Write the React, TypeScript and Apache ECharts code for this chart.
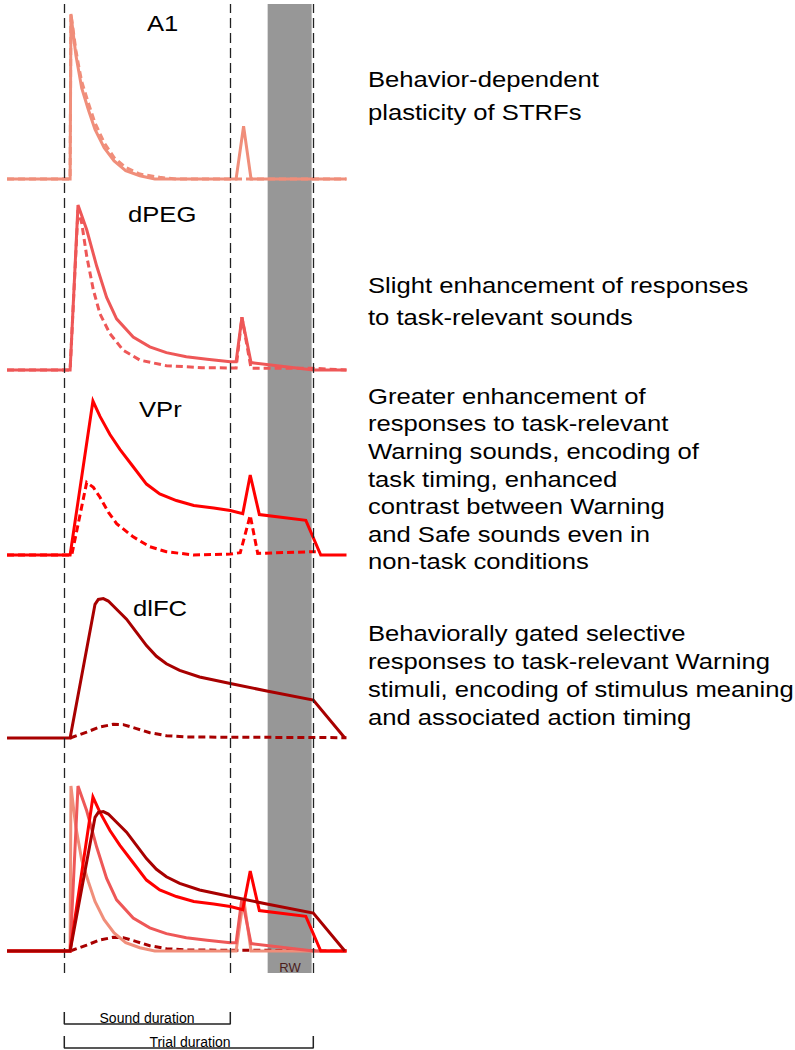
import React, { useEffect, useRef } from "react";
import * as echarts from "echarts";

// ---- time axis (s) ----
const X_MIN = -0.7;
const X_MAX = 3.4;
const SOUND_DURATION = 2;
const TRIAL_DURATION = 3;
const RW_WINDOW = [2.45, 2.98];
const EVENT_TIMES = [0, SOUND_DURATION, TRIAL_DURATION];

// ---- A1 ----
const A1_T = [-0.69, 0.07, 0.08, 0.11, 0.14, 0.175, 0.21, 0.29, 0.37, 0.48, 0.6, 0.74, 0.91, 1.09, 2.07, 2.16, 2.25, 3.4];
const A1_TASK = [0, 0, 1.0, 0.87, 0.75, 0.65, 0.55, 0.42, 0.3, 0.19, 0.11, 0.05, 0.02, 0, 0, 0.32, 0, 0];
const A1_T_PASSIVE = [-0.69, 0.07, 0.08, 0.11, 0.14, 0.175, 0.21, 0.29, 0.37, 0.48, 0.6, 0.74, 0.91, 1.15, 1.35, 3.4];
const A1_PASSIVE = [0, 0, 1.0, 0.89, 0.78, 0.68, 0.59, 0.46, 0.34, 0.22, 0.13, 0.07, 0.03, 0.01, 0, 0];

// ---- dPEG ----
const DPEG_T = [-0.69, 0.07, 0.165, 0.27, 0.39, 0.51, 0.63, 0.83, 1.03, 1.23, 1.47, 1.72, 2.0, 2.07, 2.14, 2.25, 3.0, 3.4];
const DPEG_TASK = [0, 0, 1.0, 0.85, 0.63, 0.44, 0.31, 0.2, 0.14, 0.105, 0.08, 0.065, 0.05, 0.05, 0.32, 0.045, 0, 0];
const DPEG_T_PASSIVE = [-0.69, 0.07, 0.165, 0.21, 0.27, 0.35, 0.43, 0.55, 0.71, 0.91, 1.23, 1.66, 2.07, 2.14, 2.25, 3.0, 3.4];
const DPEG_PASSIVE = [0, 0, 0.97, 0.89, 0.69, 0.485, 0.34, 0.22, 0.12, 0.06, 0.026, 0.014, 0.012, 0.32, 0.01, 0.01, 0];

// ---- VPr ----
const VPR_T = [-0.69, 0.07, 0.345, 0.43, 0.55, 0.67, 0.83, 0.99, 1.15, 1.35, 1.56, 1.8, 2.0, 2.15, 2.24, 2.35, 2.91, 3.09, 3.4];
const VPR_TASK = [0, 0, 0.933, 0.84, 0.73, 0.64, 0.535, 0.43, 0.37, 0.33, 0.3, 0.285, 0.27, 0.25, 0.485, 0.245, 0.21, 0, 0];
const VPR_T_PASSIVE = [-0.69, 0.07, 0.09, 0.27, 0.35, 0.43, 0.53, 0.63, 0.83, 1.03, 1.23, 1.56, 2.0, 2.12, 2.24, 2.33, 3.0, 3.03];
const VPR_PASSIVE = [0, 0, 0, 0.44, 0.41, 0.35, 0.26, 0.19, 0.11, 0.05, 0.02, 0, 0.006, 0.014, 0.24, 0.01, 0.02, 0.02];

// ---- dlFC ----
const DLFC_T = [-0.69, 0.07, 0.37, 0.41, 0.47, 0.53, 0.63, 0.75, 0.87, 0.99, 1.11, 1.23, 1.39, 1.63, 2.0, 2.44, 3.0, 3.38];
const DLFC_TASK = [0, 0, 0.81, 0.84, 0.845, 0.83, 0.78, 0.72, 0.64, 0.56, 0.495, 0.45, 0.41, 0.37, 0.33, 0.285, 0.23, 0];
const DLFC_T_PASSIVE = [0.07, 0.27, 0.43, 0.59, 0.71, 0.87, 1.03, 1.23, 1.47, 3.4];
const DLFC_PASSIVE = [0, 0.036, 0.067, 0.083, 0.081, 0.057, 0.032, 0.014, 0.006, 0.002];

// ---- texts ----
const AREA_NAMES = ["A1", "dPEG", "VPr", "dlFC"];
const DESC_A1 = ["Behavior-dependent", "plasticity of STRFs"];
const DESC_DPEG = ["Slight enhancement of responses", "to task-relevant sounds"];
const DESC_VPR = [
  "Greater enhancement of",
  "responses to task-relevant",
  "Warning sounds, encoding of",
  "task timing, enhanced",
  "contrast between Warning",
  "and Safe sounds even in",
  "non-task conditions",
];
const DESC_DLFC = [
  "Behaviorally gated selective",
  "responses to task-relevant Warning",
  "stimuli, encoding of stimulus meaning",
  "and associated action timing",
];
const BRACKET_LABELS = ["Sound duration", "Trial duration"];
const RW_LABEL = "RW";

const COLORS = ["#F08E7A", "#EE5757", "#FF0000", "#A80000"];

const FONT = '"Liberation Sans", Arial, Helvetica, sans-serif';
const SX = 1.165;

const zip = (t: number[], v: number[]) => t.map((x, i) => [x, v[i]]);

export default function App() {
  const ref = useRef<HTMLDivElement>(null);
  useEffect(() => {
    if (!ref.current) return;
    const chart = echarts.init(ref.current, null, { renderer: "svg" });

    const gridLeft = 6.2;
    const gridWidth = 340.3;
    const baselines = [179, 370, 555, 738, 951];
    const panelH = 165;

    const grids: any[] = [
      { left: gridLeft, width: gridWidth, top: 4, height: 969 }, // frame
    ];
    baselines.forEach((b) => grids.push({ left: gridLeft, width: gridWidth, top: b - panelH, height: panelH }));
    grids.push({ left: gridLeft, width: gridWidth, top: 1012, height: 36 }); // brackets

    const xAxes = grids.map((_, i) => ({ type: "value", gridIndex: i, min: X_MIN, max: X_MAX, show: false }));
    const yAxes = grids.map((_, i) => ({ type: "value", gridIndex: i, min: 0, max: 1, show: false }));

    const line = (gi: number, data: number[][], color: string, dashed: boolean, z = 3) => ({
      type: "line",
      xAxisIndex: gi,
      yAxisIndex: gi,
      data,
      symbol: "none",
      clip: false,
      silent: true,
      z,
      lineStyle: { color, width: 3, type: dashed ? [7, 4] : "solid", join: "miter" },
    });

    const series: any[] = [
      {
        type: "line",
        xAxisIndex: 0,
        yAxisIndex: 0,
        data: [],
        symbol: "none",
        silent: true,
        markArea: {
          silent: true,
          itemStyle: { color: "#979797", opacity: 1 },
          data: [[{ xAxis: RW_WINDOW[0] }, { xAxis: RW_WINDOW[1] }]],
        },
        markLine: {
          silent: true,
          symbol: ["none", "none"],
          label: { show: false },
          lineStyle: { color: "#222222", width: 1.3, type: [10, 5] },
          data: EVENT_TIMES.map((t) => ({ xAxis: t })),
        },
      },
      // A1
      line(1, zip(A1_T_PASSIVE, A1_PASSIVE), COLORS[0], true),
      line(1, zip(A1_T, A1_TASK), COLORS[0], false),
      // dPEG
      line(2, zip(DPEG_T_PASSIVE, DPEG_PASSIVE), COLORS[1], true),
      line(2, zip(DPEG_T, DPEG_TASK), COLORS[1], false),
      // VPr
      line(3, zip(VPR_T_PASSIVE, VPR_PASSIVE), COLORS[2], true),
      line(3, zip(VPR_T, VPR_TASK), COLORS[2], false),
      // dlFC
      line(4, zip(DLFC_T_PASSIVE, DLFC_PASSIVE), COLORS[3], true),
      line(4, zip(DLFC_T, DLFC_TASK), COLORS[3], false),
      // combined
      line(5, zip(DLFC_T_PASSIVE, DLFC_PASSIVE), COLORS[3], true, 2),
      line(5, zip(A1_T, A1_TASK), COLORS[0], false, 3),
      line(5, zip(DPEG_T, DPEG_TASK), COLORS[1], false, 4),
      line(5, zip(VPR_T, VPR_TASK), COLORS[2], false, 5),
      line(5, zip(DLFC_T, DLFC_TASK), COLORS[3], false, 6),
      // brackets
      {
        type: "line",
        xAxisIndex: 6,
        yAxisIndex: 6,
        data: [[0, 1], [0, 0.667], [SOUND_DURATION, 0.667], [SOUND_DURATION, 1]],
        symbol: "none",
        clip: false,
        silent: true,
        lineStyle: { color: "#222222", width: 1.5 },
      },
      {
        type: "line",
        xAxisIndex: 6,
        yAxisIndex: 6,
        data: [[0, 0.333], [0, 0], [TRIAL_DURATION, 0], [TRIAL_DURATION, 0.333]],
        symbol: "none",
        clip: false,
        silent: true,
        lineStyle: { color: "#222222", width: 1.5 },
      },
    ];

    const txt = (text: string, x: number, y: number, size: number, align = "left", color = "#000000", sx = SX) => ({
      type: "text",
      x,
      y,
      scaleX: sx,
      z: 100,
      silent: true,
      style: {
        text,
        fill: color,
        fontSize: size,
        fontFamily: FONT,
        align,
        verticalAlign: "middle",
        textAlign: align,
        textVerticalAlign: "middle",
      },
    });

    const labelPos = [
      [147, 23],
      [128, 214],
      [139, 409],
      [133, 608],
    ];
    const graphics: any[] = [];
    AREA_NAMES.forEach((n, i) => graphics.push(txt(n, labelPos[i][0], labelPos[i][1], 22)));

    const descX = 368;
    DESC_A1.forEach((s, i) => graphics.push(txt(s, descX, 79 + i * 33, 22)));
    DESC_DPEG.forEach((s, i) => graphics.push(txt(s, descX, 285 + i * 32, 22)));
    DESC_VPR.forEach((s, i) => graphics.push(txt(s, descX, 396 + i * 27.6, 22)));
    DESC_DLFC.forEach((s, i) => graphics.push(txt(s, descX, 633 + i * 28, 22)));

    graphics.push(txt(BRACKET_LABELS[0], 147, 1018, 14, "center", "#000000", 1.0));
    graphics.push(txt(BRACKET_LABELS[1], 190, 1042, 14, "center", "#000000", 1.0));
    graphics.push(txt(RW_LABEL, 290, 967, 13, "center", "#4a1c1c", 1.0));

    chart.setOption({
      animation: false,
      backgroundColor: "#ffffff",
      grid: grids,
      xAxis: xAxes,
      yAxis: yAxes,
      series,
      graphic: graphics,
    });
    return () => chart.dispose();
  }, []);

  return (
    <div
      ref={ref}
      style={{ position: "absolute", left: 0, top: 0, width: 795, height: 1050 }}
    />
  );
}
